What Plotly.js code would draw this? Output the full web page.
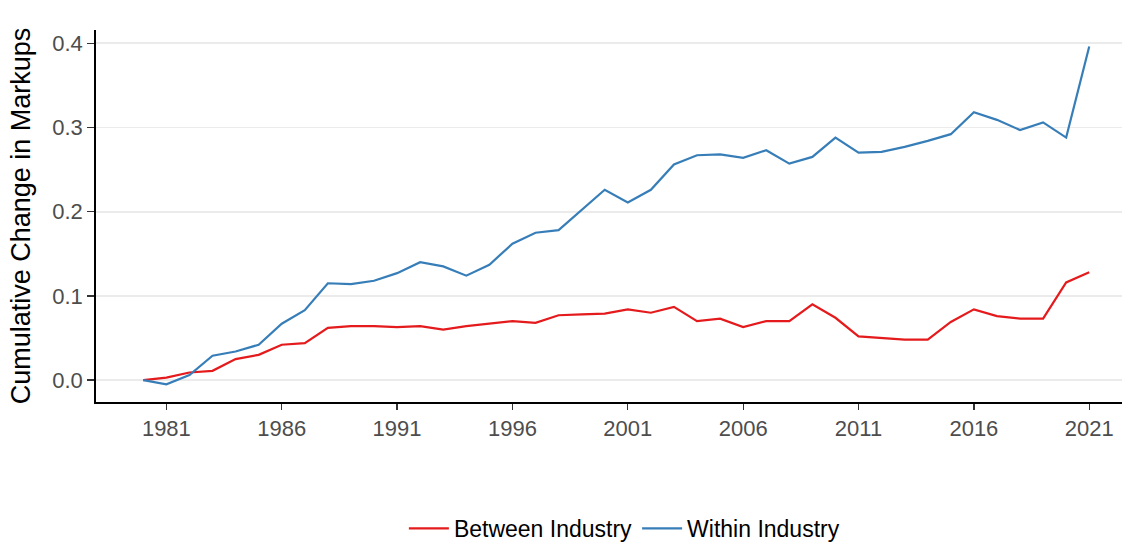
<!DOCTYPE html>
<html>
<head>
<meta charset="utf-8">
<script src="https://cdn.plot.ly/plotly-3.0.1.min.js"></script>
<style>html,body{margin:0;padding:0;background:#fff;overflow:hidden}#chart{width:1125px;height:550px}</style>
</head>
<body>
<div id="chart"></div>
<script>
const years = [1980,1981,1982,1983,1984,1985,1986,1987,1988,1989,1990,1991,1992,1993,1994,1995,1996,1997,1998,1999,2000,2001,2002,2003,2004,2005,2006,2007,2008,2009,2010,2011,2012,2013,2014,2015,2016,2017,2018,2019,2020,2021];
const betweenIndustry = [0.000,0.003,0.009,0.011,0.025,0.030,0.042,0.044,0.062,0.064,0.064,0.063,0.064,0.060,0.064,0.067,0.070,0.068,0.077,0.078,0.079,0.084,0.080,0.087,0.070,0.073,0.063,0.070,0.070,0.090,0.074,0.052,0.050,0.048,0.048,0.069,0.084,0.076,0.073,0.073,0.116,0.128];
const withinIndustry = [0.000,-0.005,0.006,0.029,0.034,0.042,0.067,0.083,0.115,0.114,0.118,0.127,0.140,0.135,0.124,0.137,0.162,0.175,0.178,0.202,0.226,0.211,0.226,0.256,0.267,0.268,0.264,0.273,0.257,0.265,0.288,0.270,0.271,0.277,0.284,0.292,0.318,0.309,0.297,0.306,0.288,0.396];
const xTicks = [1981,1986,1991,1996,2001,2006,2011,2016,2021];
const yTicks = [0,0.1,0.2,0.3,0.4];
const yTickLabels = ["0.0","0.1","0.2","0.3","0.4"];

const traces = [
  {x: years, y: betweenIndustry, type: 'scatter', mode: 'lines', name: 'Between Industry', line: {color: '#E41A1C', width: 2.2}},
  {x: years, y: withinIndustry, type: 'scatter', mode: 'lines', name: 'Within Industry', line: {color: '#377EB8', width: 2.2}}
];
const layout = {
  width: 1125, height: 550,
  margin: {l: 96, r: 3, t: 30, b: 148, pad: 0, autoexpand: false},
  paper_bgcolor: '#fff', plot_bgcolor: '#fff',
  font: {family: 'Liberation Sans, Arial, sans-serif', color: '#000'},
  showlegend: true,
  legend: {orientation: 'h', xref: 'container', yref: 'container', x: 0.555, xanchor: 'center', y: -0.014, yanchor: 'bottom', font: {size: 23, color: '#000'}, itemwidth: 40, tracegroupgap: 0},
  xaxis: {
    range: [1977.95, 2022.42], tickmode: 'array', tickvals: xTicks, ticktext: xTicks.map(String),
    showgrid: false, zeroline: false, showline: true, linecolor: '#000', linewidth: 1.8,
    ticks: 'outside', ticklen: 6, tickwidth: 1.3, tickcolor: '#333',
    tickfont: {size: 22, color: '#4D4D4D'}, automargin: false
  },
  yaxis: {
    range: [-0.026, 0.4157], tickmode: 'array', tickvals: yTicks, ticktext: yTickLabels,
    showgrid: true, gridcolor: '#EBEBEB', gridwidth: 1.8, zeroline: false,
    showline: true, linecolor: '#000', linewidth: 1.8,
    ticks: 'outside', ticklen: 7, tickwidth: 1.3, tickcolor: '#333',
    tickfont: {size: 22, color: '#4D4D4D'}, automargin: false,
    title: {text: 'Cumulative Change in Markups', font: {size: 27, color: '#000'}, standoff: 14}
  }
};
Plotly.newPlot('chart', traces, layout, {displayModeBar: false, staticPlot: true});
</script>
</body>
</html>
